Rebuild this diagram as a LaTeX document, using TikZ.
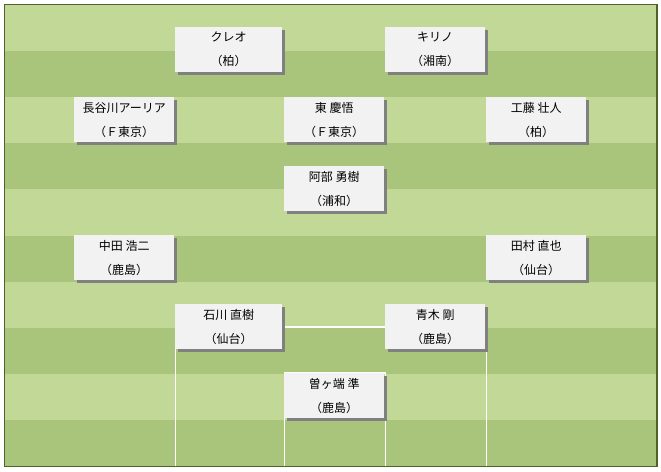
\documentclass[tikz,border=0pt]{standalone}
\usepackage{fontspec}
\newfontfamily\jp{Noto Sans CJK JP}
\usetikzlibrary{shadows}
\definecolor{stripeA}{HTML}{C2D896}
\definecolor{stripeB}{HTML}{A9C57B}
\definecolor{fieldborder}{HTML}{4F6228}
\definecolor{boxfill}{HTML}{F2F2F2}
\tikzset{
  player/.style={anchor=north west, fill=boxfill, minimum width=100pt, minimum height=45pt,
    inner sep=0pt, align=center, font=\jp\fontsize{12}{24}\selectfont,
    drop shadow={shadow xshift=3pt, shadow yshift=-3pt, fill=black!50, opacity=1}},
  pitchline/.style={white, line width=1.4pt}
}
\begin{document}
\begin{tikzpicture}[x=1pt,y=-1pt]
\useasboundingbox (0,0) rectangle (661,471);
\fill[white] (0,0) rectangle (661,471);
% stripes
\foreach \i in {0,...,9}{
  \pgfmathsetmacro{\ya}{5+46.1*\i}
  \pgfmathsetmacro{\yb}{5+46.1*(\i+1)}
  \ifodd\i \fill[stripeB] (5,\ya) rectangle (657,\yb); \else \fill[stripeA] (5,\ya) rectangle (657,\yb); \fi
}
% pitch lines
\coordinate (pl) at (175.5,466);
\coordinate (plt) at (175.5,327);
\coordinate (prt) at (486.5,327);
\coordinate (pr) at (486.5,466);
\draw[pitchline] (pl) -- (plt) -- (prt) -- (pr);
\coordinate (gl) at (284.5,466);
\coordinate (glt) at (284.5,373);
\coordinate (grt) at (385.5,373);
\coordinate (gr) at (385.5,466);
\draw[pitchline] (gl) -- (glt) -- (grt) -- (gr);
% border
\draw[fieldborder, line width=1.5pt] (4.5,4.5) rectangle (657,466.5);
% players
\node[player, minimum width=107pt] (cleo) at (175,27) {クレオ\\（柏）};
\node[player] (kirino) at (385,27) {キリノ\\（湘南）};
\node[player] (hasegawa) at (74,97) {長谷川アーリア\\（Ｆ東京）};
\node[player] (higashi) at (284,97) {東 慶悟\\（Ｆ東京）};
\node[player] (kudo) at (486,97) {工藤 壮人\\（柏）};
\node[player] (abe) at (284,166) {阿部 勇樹\\（浦和）};
\node[player] (nakata) at (74,235) {中田 浩二\\（鹿島）};
\node[player] (tamura) at (486,235) {田村 直也\\（仙台）};
\node[player, minimum width=107pt] (ishikawa) at (175,304) {石川 直樹\\（仙台）};
\node[player] (aoki) at (385,304) {青木 剛\\（鹿島）};
\node[player] (sogahata) at (284,373) {曽ヶ端 準\\（鹿島）};
\end{tikzpicture}
\end{document}
